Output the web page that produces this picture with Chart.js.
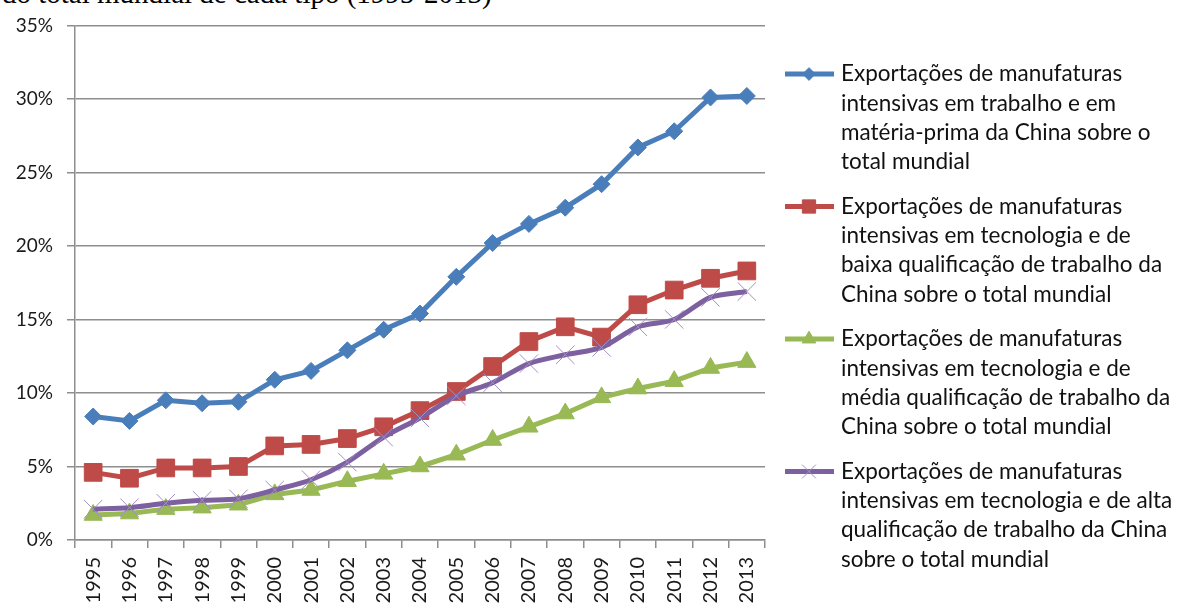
<!DOCTYPE html>
<html>
<head>
<meta charset="utf-8">
<script src="https://cdn.jsdelivr.net/npm/chart.js@4.4.1/dist/chart.umd.min.js"></script>
<style>
  html, body { margin: 0; padding: 0; background: #fff; overflow: hidden; }
  #wrap { position: relative; width: 1179px; height: 605px; }
  #topo { position: absolute; left: 2px; top: -23px; font-family: "Liberation Serif", serif; font-size: 29px; line-height: 33px; color: #000; white-space: nowrap; }
  canvas { position: absolute; left: 0; top: 0; }
</style>
</head>
<body>
<div id="wrap">
  <div id="topo">do total mundial de cada tipo (1995-2013)</div>
  <canvas id="chart" width="1179" height="605"></canvas>
</div>
<script>
// anos e participação (%) da China no total mundial
const anos = ['1995','1996','1997','1998','1999','2000','2001','2002','2003','2004',
              '2005','2006','2007','2008','2009','2010','2011','2012','2013'];
const trabalhoMateriaPrima = [8.4, 8.1, 9.5, 9.3, 9.4, 10.9, 11.5, 12.9, 14.3, 15.4,
                              17.9, 20.2, 21.5, 22.6, 24.2, 26.7, 27.8, 30.1, 30.2];
const tecnologiaBaixa = [4.6, 4.2, 4.9, 4.9, 5.0, 6.4, 6.5, 6.9, 7.7, 8.8,
                         10.1, 11.8, 13.5, 14.5, 13.8, 16.0, 17.0, 17.8, 18.3];
const tecnologiaMedia = [1.7, 1.8, 2.1, 2.2, 2.4, 3.1, 3.4, 4.0, 4.5, 5.0,
                         5.8, 6.8, 7.7, 8.6, 9.7, 10.3, 10.8, 11.7, 12.1];
const tecnologiaAlta = [2.1, 2.2, 2.5, 2.7, 2.8, 3.4, 4.1, 5.3, 7.0, 8.3,
                        9.8, 10.7, 12.0, 12.6, 13.1, 14.5, 15.0, 16.5, 16.9];
const ticksY = [0, 5, 10, 15, 20, 25, 30, 35];

const legendas = [
  ['Exportações de manufaturas', 'intensivas em trabalho e em', 'matéria-prima da China sobre o', 'total mundial'],
  ['Exportações de manufaturas', 'intensivas em tecnologia e de', 'baixa qualificação de trabalho da', 'China sobre o total mundial'],
  ['Exportações de manufaturas', 'intensivas em tecnologia e de', 'média qualificação de trabalho da', 'China sobre o total mundial'],
  ['Exportações de manufaturas', 'intensivas em tecnologia e de alta', 'qualificação de trabalho da China', 'sobre o total mundial']
];

const cinza = '#8e8e8e';
const fonte = 'Lato';

// legenda à direita, com textos em várias linhas
const legendaLateral = {
  id: 'legendaLateral',
  afterDraw(chart) {
    const ctx = chart.ctx;
    ctx.save();
    chart.data.datasets.forEach((ds, i) => {
      const y0 = 74 + i * 132.5;
      ctx.strokeStyle = ds.borderColor;
      ctx.lineWidth = 5;
      ctx.beginPath();
      ctx.moveTo(785, y0);
      ctx.lineTo(834, y0);
      ctx.stroke();
      ctx.fillStyle = ds.pointBackgroundColor;
      ctx.strokeStyle = ds.pointBorderColor;
      ctx.lineWidth = ds.pointBorderWidth;
      Chart.helpers.drawPoint(ctx, {
        pointStyle: ds.pointStyle,
        radius: ds.pointRadius * 0.75,
        borderWidth: ds.pointBorderWidth,
        rotation: 0
      }, 809, y0);
      ctx.fillStyle = '#111';
      ctx.font = '22.5px ' + fonte;
      ctx.textBaseline = 'middle';
      ctx.textAlign = 'left';
      ds.linhas.forEach((t, j) => ctx.fillText(t, 841, y0 + j * 29.3));
    });
    ctx.restore();
  }
};

const serie = (dados, cor, estilo, raio, corMarca, linhas, ordem, curva) => ({
  data: dados,
  borderColor: cor,
  borderWidth: 5,
  pointStyle: estilo,
  pointRadius: raio,
  pointBackgroundColor: corMarca,
  pointBorderColor: corMarca,
  pointBorderWidth: 1,
  tension: curva,
  order: ordem,
  linhas: linhas
});

new Chart(document.getElementById('chart'), {
  type: 'line',
  data: {
    labels: anos,
    datasets: [
      serie(trabalhoMateriaPrima, '#4a7ebb', 'rectRot', 8.5, '#4a7ebb', legendas[0], 4, 0),
      serie(tecnologiaBaixa, '#be4b48', 'rect', 12.5, '#be4b48', legendas[1], 3, 0),
      serie(tecnologiaMedia, '#98b954', 'triangle', 10.5, '#98b954', legendas[2], 2, 0),
      serie(tecnologiaAlta, '#7d60a0', 'crossRot', 13, '#a48fc4', legendas[3], 1, 0.3)
    ]
  },
  options: {
    responsive: false,
    animation: false,
    layout: { padding: { top: 20, right: 414, left: 0, bottom: 0 } },
    plugins: { legend: { display: false }, tooltip: { enabled: false } },
    scales: {
      x: {
        offset: true,
        grid: { offset: true, drawOnChartArea: false, color: cinza, lineWidth: 1.5, tickLength: 8 },
        border: { color: cinza, width: 1.5 },
        ticks: { maxRotation: 90, minRotation: 90, padding: 9, color: '#1a1a1a', font: { family: fonte, size: 20 } },
        afterFit(s) { s.height = 65; }
      },
      y: {
        min: ticksY[0],
        max: ticksY[ticksY.length - 1],
        afterBuildTicks(s) { s.ticks = ticksY.map(v => ({ value: v })); },
        grid: { color: cinza, lineWidth: 1.5, tickLength: 8 },
        border: { color: cinza, width: 1.5 },
        ticks: { padding: 14, color: '#1a1a1a', font: { family: fonte, size: 19 }, callback: v => v + '%' },
        afterFit(s) { s.width = 75; }
      }
    }
  },
  plugins: [legendaLateral]
});
</script>
</body>
</html>
